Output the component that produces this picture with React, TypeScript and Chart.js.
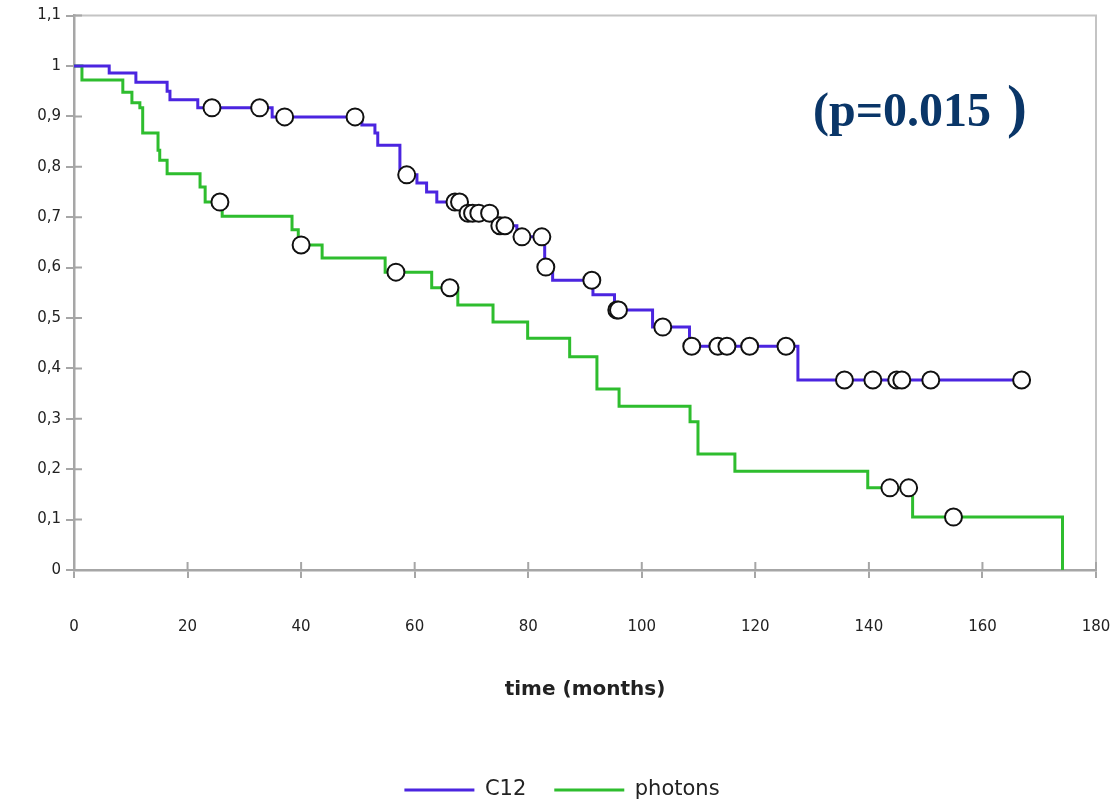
import React, { useEffect, useRef } from 'react';
import { Chart, registerables } from 'chart.js';

Chart.register(...registerables);

// ---- Data ----
const c12Times = [0, 6.2, 10.9, 16.4, 16.9, 21.8, 34.9, 50.7, 53.0, 53.5, 57.4, 60.4, 62.1, 63.9, 68.4, 74.1, 78.0, 82.9, 84.3, 91.4, 95.2, 101.9, 108.4, 127.5, 166.9];
const c12Surv = [1, 0.986, 0.968, 0.95, 0.933, 0.917, 0.899, 0.883, 0.867, 0.843, 0.784, 0.768, 0.75, 0.73, 0.708, 0.683, 0.661, 0.601, 0.575, 0.546, 0.516, 0.482, 0.444, 0.377, 0.377];

const c12CensorTimes = [24.3, 32.7, 37.1, 49.5, 58.6, 67.1, 67.9, 69.4, 70.2, 71.3, 73.2, 75.0, 75.9, 78.9, 82.4, 83.1, 91.2, 95.6, 95.9, 103.7, 108.8, 113.4, 115.0, 119.0, 125.4, 135.7, 140.7, 144.9, 145.8, 150.9, 166.9];
const c12CensorSurv = [0.917, 0.917, 0.899, 0.899, 0.784, 0.73, 0.73, 0.708, 0.708, 0.708, 0.708, 0.683, 0.683, 0.661, 0.661, 0.601, 0.575, 0.516, 0.516, 0.482, 0.444, 0.444, 0.444, 0.444, 0.444, 0.377, 0.377, 0.377, 0.377, 0.377, 0.377];

const photonTimes = [0, 1.4, 8.6, 10.2, 11.6, 12.1, 14.8, 15.1, 16.4, 22.2, 23.1, 26.1, 38.4, 39.5, 43.7, 54.8, 63.0, 67.6, 73.8, 79.9, 87.3, 92.1, 96.0, 108.5, 109.9, 116.4, 139.8, 147.7, 174.1];
const photonSurv = [1, 0.972, 0.948, 0.927, 0.917, 0.867, 0.833, 0.813, 0.786, 0.76, 0.73, 0.702, 0.675, 0.645, 0.619, 0.591, 0.56, 0.526, 0.492, 0.46, 0.423, 0.359, 0.325, 0.294, 0.23, 0.196, 0.163, 0.105, 0];

const photonCensorTimes = [25.7, 40.0, 56.7, 66.2, 143.7, 147.0, 154.9];
const photonCensorSurv = [0.73, 0.645, 0.591, 0.56, 0.163, 0.163, 0.105];

const xTickValues = [0, 20, 40, 60, 80, 100, 120, 140, 160, 180];
const xTickLabels = ['0', '20', '40', '60', '80', '100', '120', '140', '160', '180'];
const yTickValues = [0, 0.1, 0.2, 0.3, 0.4, 0.5, 0.6, 0.7, 0.8, 0.9, 1, 1.1];
const yTickLabels = ['0', '0,1', '0,2', '0,3', '0,4', '0,5', '0,6', '0,7', '0,8', '0,9', '1', '1,1'];

const seriesNames = ['C12', 'photons'];
const pValueText = '(p=0.015';
const xTitle = 'time (months)';

const AXIS = '#a6a6a6';
const FRAME = '#c4c4c4';
const BLUE = '#4b25e0';
const GREEN = '#2ebd2e';
const FONT = '"DejaVu Sans", sans-serif';

function toPoints(xs: number[], ys: number[]) {
  return xs.map((x, i) => ({ x, y: ys[i] }));
}

export default function App() {
  const ref = useRef<HTMLCanvasElement>(null);

  useEffect(() => {
    if (!ref.current) return;

    const framePlugin = {
      id: 'framePlugin',
      beforeDatasetsDraw(chart: any) {
        const { ctx, chartArea } = chart;
        const xs = chart.scales.x;
        const ys = chart.scales.y;
        ctx.save();
        ctx.strokeStyle = FRAME;
        ctx.lineWidth = 2;
        ctx.beginPath();
        ctx.moveTo(chartArea.left, chartArea.top);
        ctx.lineTo(chartArea.right, chartArea.top);
        ctx.lineTo(chartArea.right, chartArea.bottom);
        ctx.stroke();
        // inner halves of the crossing tick marks
        ctx.strokeStyle = AXIS;
        ctx.lineWidth = 2;
        ctx.beginPath();
        xTickValues.forEach((v) => {
          const px = xs.getPixelForValue(v);
          ctx.moveTo(px, chartArea.bottom);
          ctx.lineTo(px, chartArea.bottom - 8);
        });
        yTickValues.forEach((v) => {
          const py = ys.getPixelForValue(v);
          ctx.moveTo(chartArea.left, py);
          ctx.lineTo(chartArea.left + 8, py);
        });
        ctx.stroke();
        ctx.restore();
      },
    };

    const pTextPlugin = {
      id: 'pTextPlugin',
      afterDraw(chart: any) {
        const { ctx } = chart;
        ctx.save();
        ctx.fillStyle = '#0a3668';
        ctx.textBaseline = 'alphabetic';
        ctx.textAlign = 'left';
        ctx.font = 'bold 48px "Liberation Serif", serif';
        ctx.fillText(pValueText, 813, 126);
        ctx.font = 'bold 60px "Liberation Serif", serif';
        ctx.fillText(')', 1007, 126);
        ctx.restore();
      },
    };

    const chart = new Chart(ref.current, {
      type: 'line',
      data: {
        datasets: [
          {
            label: seriesNames[0],
            data: toPoints(c12Times, c12Surv),
            borderColor: BLUE,
            backgroundColor: BLUE,
            borderWidth: 3,
            stepped: true,
            pointRadius: 0,
            fill: false,
            order: 1,
          },
          {
            label: seriesNames[1],
            data: toPoints(photonTimes, photonSurv),
            borderColor: GREEN,
            backgroundColor: GREEN,
            borderWidth: 3,
            stepped: true,
            pointRadius: 0,
            fill: false,
            order: 1,
          },
          {
            label: 'c12-censored',
            data: toPoints(c12CensorTimes, c12CensorSurv),
            showLine: false,
            pointRadius: 8.5,
            pointBorderWidth: 2,
            pointBorderColor: '#111111',
            pointBackgroundColor: '#ffffff',
            order: 0,
          },
          {
            label: 'photons-censored',
            data: toPoints(photonCensorTimes, photonCensorSurv),
            showLine: false,
            pointRadius: 8.5,
            pointBorderWidth: 2,
            pointBorderColor: '#111111',
            pointBackgroundColor: '#ffffff',
            order: 0,
          },
        ],
      },
      options: {
        responsive: false,
        animation: false,
        layout: { padding: { top: 15.6, right: 18, left: 28, bottom: -8.5 } },
        plugins: {
          tooltip: { enabled: false },
          legend: {
            display: true,
            position: 'bottom',
            labels: {
              filter: (item: any) => item.datasetIndex < 2,
              usePointStyle: true,
              pointStyle: 'line',
              pointStyleWidth: 70,
              padding: 28,
              color: '#222222',
              font: { family: FONT, size: 21 },
            },
          },
        },
        scales: {
          x: {
            type: 'linear',
            min: 0,
            max: 180,
            afterBuildTicks: (s: any) => {
              s.ticks = xTickValues.map((v) => ({ value: v }));
            },
            afterFit: (s: any) => {
              s.height = 181.5;
              s.paddingLeft = 0;
              s.paddingRight = 0;
            },
            ticks: {
              callback: (_v: any, i: number) => xTickLabels[i],
              color: '#222222',
              font: { family: FONT, size: 15 },
              padding: 40,
              maxRotation: 0,
            },
            grid: { display: true, drawOnChartArea: false, drawTicks: true, tickLength: 8, color: AXIS, lineWidth: 2 },
            border: { display: true, color: AXIS, width: 2.5 },
            title: {
              display: true,
              text: xTitle,
              color: '#222222',
              font: { family: FONT, size: 20, weight: 'bold' },
              padding: { top: 0, bottom: 49.5 },
            },
          },
          y: {
            type: 'linear',
            min: 0,
            max: 1.1,
            afterBuildTicks: (s: any) => {
              s.ticks = yTickValues.map((v) => ({ value: v }));
            },
            afterFit: (s: any) => {
              s.width = 46;
              s.paddingTop = 0;
              s.paddingBottom = 0;
            },
            ticks: {
              callback: (_v: any, i: number) => yTickLabels[i],
              color: '#222222',
              font: { family: FONT, size: 15 },
              padding: 5,
            },
            grid: { display: true, drawOnChartArea: false, drawTicks: true, tickLength: 8, color: AXIS, lineWidth: 2 },
            border: { display: true, color: AXIS, width: 2.5 },
          },
        },
      },
      plugins: [framePlugin, pTextPlugin],
    } as any);

    return () => chart.destroy();
  }, []);

  return (
    <div style={{ position: 'fixed', left: 0, top: 0, width: 1114, height: 802, background: '#ffffff' }}>
      <canvas ref={ref} width={1114} height={802} style={{ display: 'block' }} />
    </div>
  );
}
